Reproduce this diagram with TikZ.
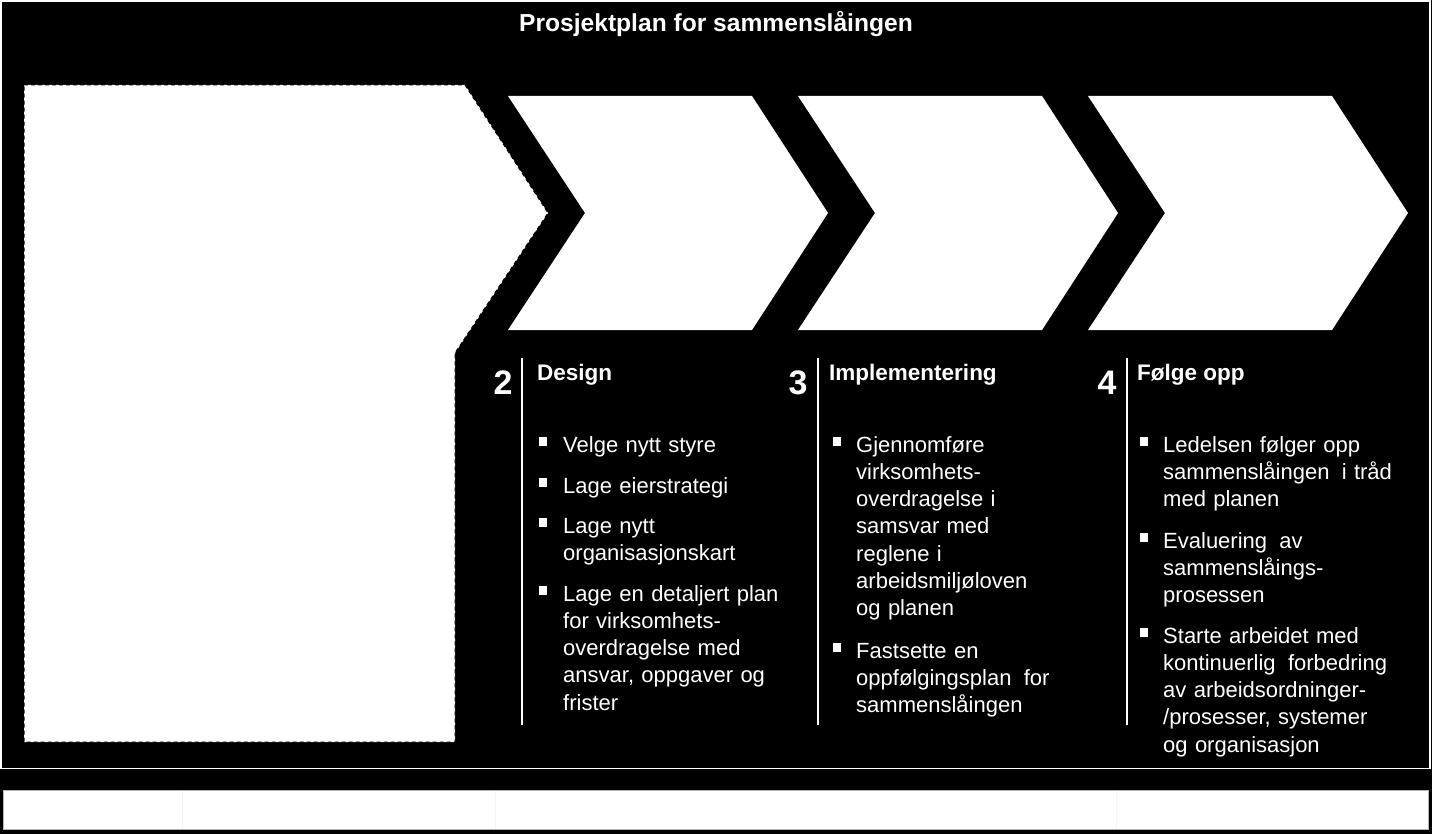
\documentclass[tikz,border=0pt]{standalone}
\usepackage{fontspec}
\setmainfont{Liberation Sans}
\begin{document}
\begin{tikzpicture}[x=1pt,y=-1pt,
  titletext/.style={text=white, font=\bfseries\fontsize{24.6}{28}\selectfont, anchor=base, inner sep=0pt},
  numtext/.style={text=white, font=\bfseries\fontsize{34}{38}\selectfont, anchor=base, inner sep=0pt},
  headtext/.style={text=white, font=\bfseries\fontsize{22.5}{26}\selectfont, anchor=base west, inner sep=0pt},
  bodytext/.style={text=white, font=\fontsize{22}{27.3}\selectfont, anchor=base west, inner sep=0pt, text width=290pt, align=left},
  sepline/.style={draw=white, line width=1.6pt},
  chevron/.style={fill=white},
  leftshape/.style={fill=white, draw=black, line width=1pt, dash pattern=on 4pt off 3pt},
  bulletbox/.style={fill=white}
]
\useasboundingbox (0,0) rectangle (1432,834);
\fill[black] (0,0) rectangle (1432,834);
\draw[white, line width=1.5pt] (1,1) rectangle (1430,768.5);

\node[titletext] (title) at (716,32) {Prosjektplan for sammenslåingen};

% left dashed shape
\draw[leftshape] (24,85) -- (465,85) -- (548,213) -- (455,353) -- (455,742) -- (24,742) -- cycle;

% chevrons
\foreach \x in {508,798,1088}
  \fill[chevron] (\x,96) -- (\x+244,96) -- (\x+320,213) -- (\x+244,330) -- (\x,330) -- (\x+77,213) -- cycle;

% bottom bar
\draw[fill=white, draw=gray!60, line width=0.8pt] (3,790) rectangle (1428,829);
\foreach \x in {182,495,1116}
  \draw[gray!8, line width=0.4pt] (\x,790.5) -- (\x,828.5);

% numbers
\node[numtext] (n2) at (503,394) {2};
\node[numtext] (n3) at (798,394) {3};
\node[numtext] (n4) at (1107,394) {4};

% separators
\coordinate (s2a) at (522,358); \coordinate (s2b) at (522,725);
\coordinate (s3a) at (818,358); \coordinate (s3b) at (818,725);
\coordinate (s4a) at (1127,358); \coordinate (s4b) at (1127,725);
\draw[sepline] (s2a) -- (s2b);
\draw[sepline] (s3a) -- (s3b);
\draw[sepline] (s4a) -- (s4b);

% headers
\node[headtext] (h2) at (537,380) {Design};
\node[headtext] (h3) at (829,380) {Implementering};
\node[headtext] (h4) at (1137,380) {Følge opp};

% column 2
\foreach \yb in {452,493,533,601} \fill[bulletbox] (539,\yb-15) rectangle (547,\yb-6);
\node[bodytext] (c2a) at (563,452) {Velge nytt styre};
\node[bodytext] (c2b) at (563,493) {Lage eierstrategi};
\node[bodytext] (c2c) at (563,533) {Lage nytt\\organisasjonskart};
\node[bodytext] (c2d) at (563,601) {Lage en detaljert plan\\for virksomhets-\\overdragelse med\\ansvar, oppgaver og\\frister};

% column 3
\foreach \yb in {452,658} \fill[bulletbox] (833,\yb-15) rectangle (841,\yb-6);
\node[bodytext] (c3a) at (856,452) {Gjennomføre\\virksomhets-\\overdragelse i\\samsvar med\\reglene i\\arbeidsmiljøloven\\og planen};
\node[bodytext] (c3b) at (856,658) {Fastsette en\\oppfølgingsplan\hspace{5pt} for\\sammenslåingen};

% column 4
\foreach \yb in {452,548,643} \fill[bulletbox] (1140,\yb-15) rectangle (1148,\yb-6);
\node[bodytext] (c4a) at (1163,452) {Ledelsen følger opp\\sammenslåingen\hspace{5pt} i tråd\\med planen};
\node[bodytext] (c4b) at (1163,548) {Evaluering\hspace{5pt} av\\sammenslåings-\\prosessen};
\node[bodytext] (c4c) at (1163,643) {Starte arbeidet med\\kontinuerlig\hspace{5pt} forbedring\\av arbeidsordninger-\\/prosesser, systemer\\og organisasjon};
\end{tikzpicture}
\end{document}
